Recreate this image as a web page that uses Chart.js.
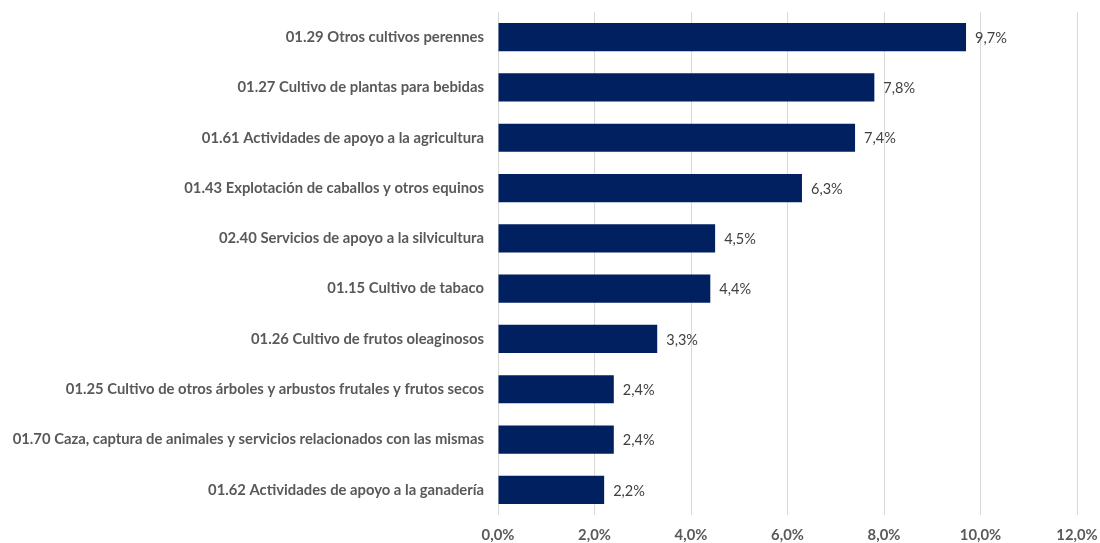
<!DOCTYPE html>
<html>
<head>
<meta charset="utf-8">
<script src="https://cdn.jsdelivr.net/npm/chart.js@4/dist/chart.umd.min.js"></script>
<style>
  html, body { margin: 0; padding: 0; background: #fff; }
</style>
</head>
<body>
<canvas id="sectorChart" width="1100" height="543"></canvas>
<script>
// Categories (top to bottom) and their values in percent
const categories = [
  '01.29 Otros cultivos perennes',
  '01.27 Cultivo de plantas para bebidas',
  '01.61 Actividades de apoyo a la agricultura',
  '01.43 Explotación de caballos y otros equinos',
  '02.40 Servicios de apoyo a la silvicultura',
  '01.15 Cultivo de tabaco',
  '01.26 Cultivo de frutos oleaginosos',
  '01.25 Cultivo de otros árboles y arbustos frutales y frutos secos',
  '01.70 Caza, captura de animales y servicios relacionados con las mismas',
  '01.62 Actividades de apoyo a la ganadería'
];
const values = [9.7, 7.8, 7.4, 6.3, 4.5, 4.4, 3.3, 2.4, 2.4, 2.2];
const xTicks = [0, 2, 4, 6, 8, 10, 12];

const fmt = (v, d) => v.toFixed(d).replace('.', ',') + '%';
const FONT = 'Lato, "Open Sans", sans-serif';

// simple value labels to the right of each bar
const valueLabels = {
  id: 'valueLabels',
  afterDatasetsDraw(chart) {
    const ctx = chart.ctx;
    const meta = chart.getDatasetMeta(0);
    ctx.save();
    ctx.font = '14.5px ' + FONT;
    ctx.fillStyle = '#404040';
    ctx.textAlign = 'left';
    ctx.textBaseline = 'middle';
    meta.data.forEach((bar, i) => {
      ctx.fillText(fmt(values[i], 1), bar.x + 9, bar.y + 1);
    });
    ctx.restore();
  }
};

new Chart(document.getElementById('sectorChart').getContext('2d'), {
  type: 'bar',
  data: {
    labels: categories,
    datasets: [{
      data: values,
      backgroundColor: '#002060',
      borderWidth: 0,
      barPercentage: 0.56,
      categoryPercentage: 1
    }]
  },
  options: {
    indexAxis: 'y',
    responsive: false,
    animation: false,
    devicePixelRatio: 1,
    layout: { padding: { top: 12, right: 23, left: 0, bottom: 0 } },
    plugins: {
      legend: { display: false },
      tooltip: { enabled: false }
    },
    scales: {
      x: {
        min: 0,
        max: 12,
        afterBuildTicks: (axis) => { axis.ticks = xTicks.map(v => ({ value: v })); },
        afterFit: (axis) => { axis.height = 28; axis.paddingLeft = 0; axis.paddingRight = 0; },
        grid: { color: '#d9d9d9', lineWidth: 1, drawTicks: false },
        border: { display: false },
        ticks: {
          padding: 11,
          color: '#595959',
          maxRotation: 0,
          font: { family: FONT, size: 14.8, weight: 'bold' },
          callback: (v) => fmt(v, 1)
        }
      },
      y: {
        grid: { display: false, drawTicks: false },
        border: { display: false },
        afterFit: (axis) => { axis.width = 498; axis.paddingTop = 0; axis.paddingBottom = 0; },
        ticks: {
          padding: 14,
          color: '#595959',
          font: { family: FONT, size: 14.8, weight: 'bold' }
        }
      }
    }
  },
  plugins: [valueLabels]
});
</script>
</body>
</html>
